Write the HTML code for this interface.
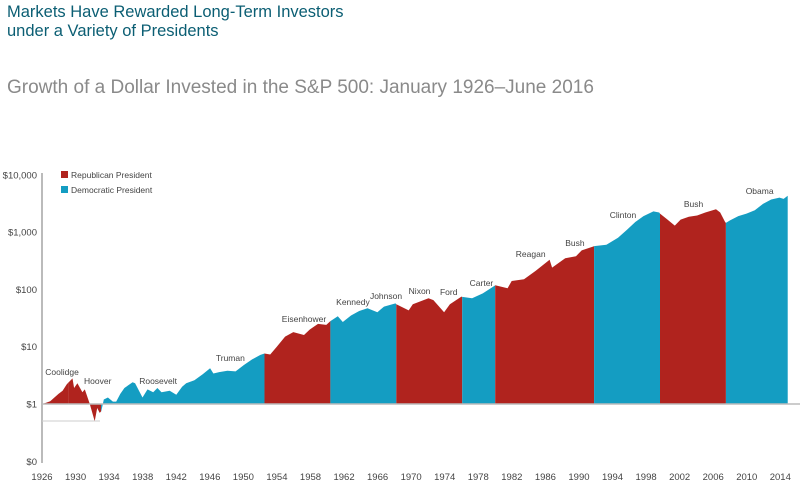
<!DOCTYPE html>
<html><head><meta charset="utf-8">
<style>
body{margin:0;background:#fff;width:800px;height:489px;overflow:hidden;font-family:"Liberation Sans",sans-serif}
#t1{position:absolute;left:7px;top:3px;font-size:16.5px;line-height:19px;color:#0b5e73}
#t2{position:absolute;left:7px;top:77px;font-size:19px;color:#8a8a8a}
</style></head><body>
<div id="t1">Markets Have Rewarded Long-Term Investors<br>under a Variety of Presidents</div>
<div id="t2">Growth of a Dollar Invested in the S&amp;P 500: January 1926–June 2016</div>
<svg id="c" width="800" height="489" style="position:absolute;left:0;top:0"></svg>
<script>
const years=[1926.0,1926.5,1927.0,1927.5,1928.0,1928.5,1929.0,1929.7,1929.9,1930.3,1930.9,1931.2,1931.8,1932.4,1932.7,1933.0,1933.2,1933.5,1934.0,1934.6,1935.0,1935.5,1936.0,1937.0,1937.3,1938.2,1938.8,1939.5,1940.0,1940.5,1941.5,1942.3,1943.0,1943.5,1944.5,1945.5,1946.4,1946.8,1947.5,1948.5,1949.5,1950.5,1951.5,1952.5,1953.0,1953.7,1954.5,1955.5,1956.5,1957.8,1958.5,1959.5,1960.5,1961.0,1961.9,1962.5,1963.5,1964.5,1965.5,1966.7,1967.5,1968.9,1969.0,1970.5,1971.0,1972.9,1973.5,1974.8,1975.5,1976.9,1977.0,1978.2,1979.5,1980.9,1981.0,1982.5,1983.0,1984.5,1985.9,1987.6,1987.9,1989.5,1990.8,1991.5,1992.9,1993.0,1994.5,1995.9,1997.0,1998.0,1999.0,2000.2,2000.9,2001.0,2001.8,2002.8,2003.5,2004.5,2005.5,2006.5,2007.8,2008.3,2008.9,2009.0,2009.5,2010.5,2011.5,2012.5,2013.5,2014.5,2015.5,2016.0,2016.5];
const values=[1.0,1.05,1.12,1.3,1.5,1.7,2.2,2.8,1.9,2.3,1.6,1.8,1.0,0.5,0.85,0.7,0.75,1.2,1.3,1.1,1.1,1.5,1.9,2.4,2.3,1.3,1.8,1.6,1.9,1.6,1.7,1.45,2.0,2.3,2.6,3.3,4.2,3.4,3.6,3.8,3.7,4.8,6.0,7.2,7.6,7.3,10,15,18,16,20,25,24,28,34,27,35,42,47,40,50,57,55,43,55,70,65,40,55,75,74,70,85,115,118,105,140,150,210,330,240,350,380,480,560,570,600,800,1100,1500,1900,2300,2200,2100,1700,1300,1650,1850,1950,2200,2500,2200,1500,1450,1600,1900,2100,2400,3100,3700,4000,3800,4300];
const termStarts=[1926,1929.17,1933.17,1953,1961,1969,1977,1981,1993,2001,2009];
const termEnds=[1929.17,1933.17,1953,1961,1969,1977,1981,1993,2001,2009,2016.5];
const termParty=["R","R","D","R","D","R","D","R","D","R","D"];
const yTickVals=[10000,1000,100,10,1,0.1];
const yTickLabels=["$10,000","$1,000","$100","$10","$1","$0"];
const xTickYears=[1926,1930,1934,1938,1942,1946,1950,1954,1958,1962,1966,1970,1974,1978,1982,1986,1990,1994,1998,2002,2006,2010,2014];
const presNames=["Coolidge","Hoover","Roosevelt","Truman","Eisenhower","Kennedy","Johnson","Nixon","Ford","Carter","Reagan","Bush","Clinton","Bush","Obama"];
const presYears=[1926.4,1931.1,1937.8,1947.1,1955.1,1961.7,1965.8,1970.5,1974.3,1977.9,1983.5,1989.5,1994.9,2003.9,2011.4];
const presVals=[3.2,2.23,2.23,5.63,27,53.4,68,83,80,115,368,572,1762,2742,4624];

const svg=document.getElementById('c');const NS='http://www.w3.org/2000/svg';
const X=y=>42+(y-1926)*8.24;
const XT=y=>42+(y-1926)*8.39;
const Y=v=>404-Math.log10(v)*57.3;
function mk(t,a){const e=document.createElementNS(NS,t);for(const k in a)e.setAttribute(k,a[k]);svg.appendChild(e);return e;}
function interp(t){for(let i=0;i<years.length-1;i++){if(t>=years[i]&&t<=years[i+1]){const f=(t-years[i])/(years[i+1]-years[i]);return Math.pow(10,Math.log10(values[i])*(1-f)+Math.log10(values[i+1])*f);}}return values[values.length-1];}
for(let k=0;k<termStarts.length;k++){
 const s=termStarts[k],e=termEnds[k];
 let pts=[[s,interp(s)]];
 for(let i=0;i<years.length;i++)if(years[i]>s&&years[i]<e)pts.push([years[i],values[i]]);
 pts.push([e,interp(e)]);
 let d='M'+X(s)+','+Y(1)+' '+pts.map(p=>'L'+X(p[0]).toFixed(1)+','+Y(p[1]).toFixed(1)).join(' ')+' L'+X(e)+','+Y(1)+'Z';
 const p=mk('path',{d:d,fill:termParty[k]=="R"?"#b0231e":"#149dc2"});
 
 
}
const ax=mk('line',{x1:42,y1:173,x2:42,y2:463,stroke:'#bbb','stroke-width':2});

const bl=mk('line',{x1:42,y1:404,x2:800,y2:404,stroke:'#bbb','stroke-width':1.5});

const gl=mk('line',{x1:42,y1:421,x2:100,y2:421,stroke:'#ccc','stroke-width':1});

yTickVals.forEach((v,i)=>{const t=mk('text',{x:37,y:Y(v)+3.5,'text-anchor':'end','font-size':9.5,fill:'#444'});t.textContent=yTickLabels[i];
 });
xTickYears.forEach(yr=>{const t=mk('text',{x:XT(yr),y:480,'text-anchor':'middle','font-size':9.5,fill:'#444'});t.textContent=yr;
 });
presNames.forEach((n,i)=>{const t=mk('text',{x:X(presYears[i]),y:Y(presVals[i]),'font-size':8.5,fill:'#444'});t.textContent=n;
 });
const l1=mk('rect',{x:61,y:171,width:7,height:7,fill:'#b0231e'});
const lt1=mk('text',{x:71,y:178,'font-size':8.5,fill:'#444'});lt1.textContent='Republican President';
const l2=mk('rect',{x:61,y:186,width:7,height:7,fill:'#149dc2'});
const lt2=mk('text',{x:71,y:193,'font-size':8.5,fill:'#444'});lt2.textContent='Democratic President';
</script>
</body></html>
